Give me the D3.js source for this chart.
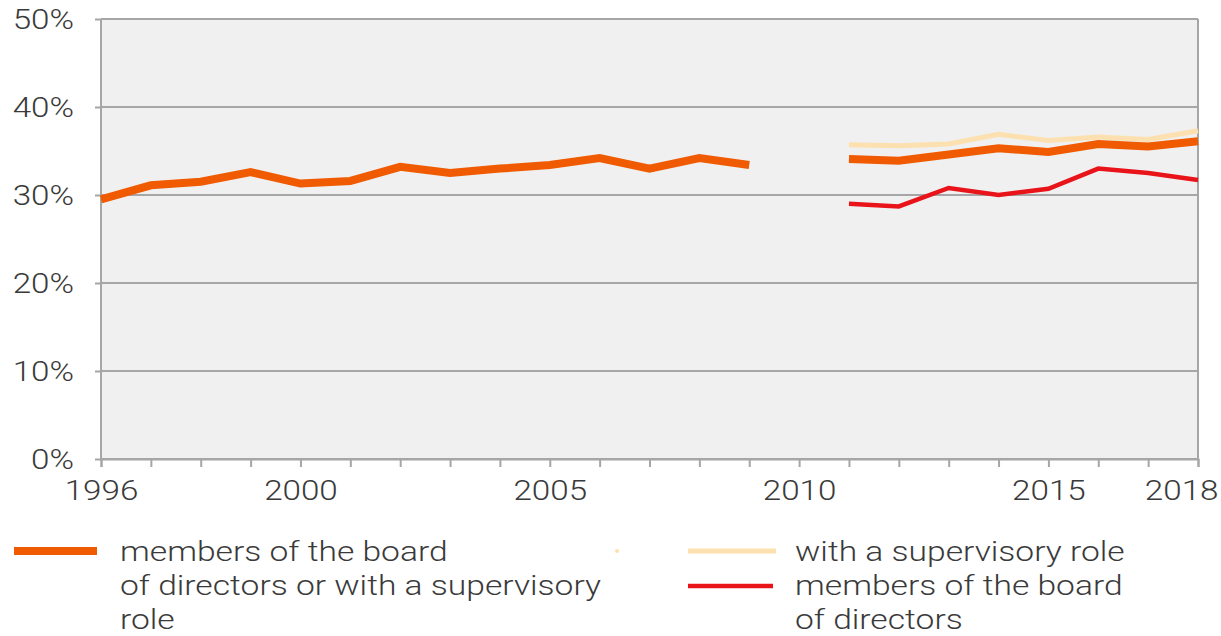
<!DOCTYPE html>
<html>
<head>
<meta charset="utf-8">
<script src="https://cdn.jsdelivr.net/npm/d3@7"></script>
<style>
  body { margin: 0; background: #fff; }
  text { font-family: Roboto, "Noto Sans", sans-serif; font-weight: 300; fill: #3a3a3a; }
</style>
</head>
<body>
<div id="chart"></div>
<script>
var svgWidth = 1221;
var svgHeight = 636;

// data
var years = d3.range(1996, 2019);
var combined = [29.5, 31.1, 31.5, 32.6, 31.3, 31.6, 33.2, 32.5, 33.0, 33.4, 34.2, 33.0, 34.2, 33.4,
                null, 34.1, 33.9, 34.6, 35.3, 34.9, 35.8, 35.5, 36.1];
var supervisory = [null, null, null, null, null, null, null, null, null, null, null, null, null, null,
                   null, 35.7, 35.6, 35.8, 36.9, 36.2, 36.6, 36.3, 37.3];
var board = [null, null, null, null, null, null, null, null, null, null, null, null, null, null,
             null, 29.0, 28.7, 30.8, 30.0, 30.7, 33.0, 32.5, 31.7];
var yTicks = [0, 10, 20, 30, 40, 50];
var xLabels = [1996, 2000, 2005, 2010, 2015, 2018];

var margin = { top: 19, right: 23, bottom: 177, left: 101 };
var width = svgWidth - margin.left - margin.right;
var height = svgHeight - margin.top - margin.bottom;
var stretch = 1.23;   // the text in the original is drawn wide

var svg = d3.select("#chart")
  .append("svg")
  .attr("width", svgWidth)
  .attr("height", svgHeight);

var g = svg.append("g")
  .attr("transform", `translate(${margin.left}, ${margin.top})`);

var x = d3.scaleLinear().domain([1996, 2018]).range([0, width]);
var y = d3.scaleLinear().domain([0, 50]).range([height, 0]);

// plot background
g.append("rect")
  .attr("width", width)
  .attr("height", height)
  .attr("fill", "#f0f0f0");

// grid
g.selectAll(".grid")
  .data(yTicks)
  .enter()
  .append("line")
  .attr("x1", 0)
  .attr("x2", width)
  .attr("y1", d => y(d))
  .attr("y2", d => y(d))
  .attr("stroke", "#a6a6a6")
  .attr("stroke-width", 2);

// frame
g.append("line").attr("x1", 0).attr("x2", 0).attr("y1", 0).attr("y2", height)
  .attr("stroke", "#a6a6a6").attr("stroke-width", 2);
g.append("line").attr("x1", width).attr("x2", width).attr("y1", 0).attr("y2", height)
  .attr("stroke", "#a6a6a6").attr("stroke-width", 2);

// y axis
var yaxis = d3.axisLeft(y)
  .tickValues(yTicks)
  .tickSize(6)
  .tickFormat(d => d + "%");
var yg = g.append("g").call(yaxis);
yg.select(".domain").remove();
yg.selectAll("line").attr("stroke", "#a6a6a6").attr("stroke-width", 2);
yg.selectAll("text")
  .style("font-size", "27px")
  .attr("fill", "#4a4a4a")
  .attr("x", -27 / stretch)
  .attr("dy", "0.36em")
  .attr("transform", `scale(${stretch},1)`);

// x axis
var xaxis = d3.axisBottom(x)
  .tickValues(years)
  .tickSize(8)
  .tickPadding(14)
  .tickFormat(d => xLabels.indexOf(d) >= 0 ? d : "");
var xg = g.append("g")
  .attr("transform", `translate(0, ${height})`)
  .call(xaxis);
xg.select(".domain").attr("stroke", "#a6a6a6").attr("stroke-width", 2);
xg.selectAll("line").attr("stroke", "#a6a6a6").attr("stroke-width", 2);
xg.selectAll("text")
  .style("font-size", "27px")
  .attr("fill", "#4a4a4a")
  .attr("transform", `scale(${stretch},1)`);
xg.selectAll("text").filter(d => d === 2018)
  .attr("text-anchor", "end")
  .attr("x", 20 / stretch);

// lines
var line = d3.line()
  .defined(d => d.v !== null)
  .x(d => x(d.year))
  .y(d => y(d.v));

function series(vals) {
  return years.map((yr, i) => ({ year: yr, v: vals[i] }));
}

g.append("path")
  .datum(series(supervisory))
  .attr("d", line)
  .attr("fill", "none")
  .attr("stroke", "#fde0b0")
  .attr("stroke-width", 5);

g.append("path")
  .datum(series(combined))
  .attr("d", line)
  .attr("fill", "none")
  .attr("stroke", "#f05a00")
  .attr("stroke-width", 8);

g.append("path")
  .datum(series(board))
  .attr("d", line)
  .attr("fill", "none")
  .attr("stroke", "#e8141a")
  .attr("stroke-width", 4.5);

// legend
var legend = svg.append("g")
  .style("font-size", "27px");

function legendText(tx, ty, lines) {
  legend.append("text")
    .attr("transform", `translate(${tx}, ${ty}) scale(1.245,1)`)
    .selectAll("tspan")
    .data(lines)
    .enter()
    .append("tspan")
    .attr("x", 0)
    .attr("dy", (d, i) => i === 0 ? 0 : 34)
    .text(d => d);
}

legend.append("line")
  .attr("x1", 14).attr("x2", 97).attr("y1", 551).attr("y2", 551)
  .attr("stroke", "#f05a00").attr("stroke-width", 8);
legendText(120, 561, ["members of the board", "of directors or with a supervisory", "role"]);

legend.append("circle")
  .attr("cx", 617).attr("cy", 551).attr("r", 2)
  .attr("fill", "#fde0b0");

legend.append("line")
  .attr("x1", 688).attr("x2", 776).attr("y1", 551).attr("y2", 551)
  .attr("stroke", "#fde0b0").attr("stroke-width", 5);
legendText(795, 561, ["with a supervisory role"]);

legend.append("line")
  .attr("x1", 688).attr("x2", 773).attr("y1", 586).attr("y2", 586)
  .attr("stroke", "#e8141a").attr("stroke-width", 4.5);
legendText(795, 595, ["members of the board", "of directors"]);
</script>
</body>
</html>
